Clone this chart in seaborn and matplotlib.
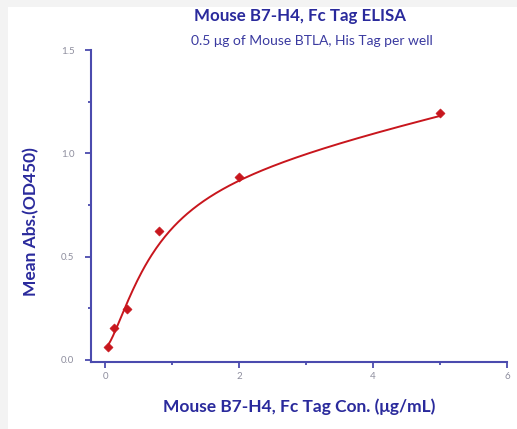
import matplotlib
matplotlib.use("Agg")
import matplotlib.pyplot as plt
import numpy as np
import seaborn as sns
from matplotlib.patches import Rectangle
from matplotlib.ticker import MultipleLocator

sns.set_theme(style="ticks")
plt.rcParams["font.family"] = ["Lato", "DejaVu Sans"]

# ---------------------------------------------------------------- data
conc = [0.0512, 0.128, 0.32, 0.8, 2.0, 5.0]          # ug/mL
od450 = [0.064, 0.155, 0.245, 0.624, 0.887, 1.194]   # mean Abs

# fitted curve (x, y along the red line)
curve_x = [0.05, 0.128, 0.32, 0.57, 0.8, 1.17, 1.57, 2.0, 2.31, 3.36, 5.0]
curve_y = [0.066, 0.15, 0.242, 0.42, 0.58, 0.71, 0.806, 0.86, 0.895, 1.016, 1.194]

title = "Mouse B7-H4, Fc Tag ELISA"
subtitle = "0.5 \u03bcg of Mouse BTLA, His Tag per well"
xlabel = "Mouse B7-H4, Fc Tag Con. (\u03bcg/mL)"
ylabel = "Mean Abs.(OD450)"

BLUE = "#2a2a9c"
AXC = "#4b4bae"
RED = "#c8161d"

# total binding w/ Hill slope: bg + Bmax*x^h/(Kd^h+x^h) + NS*x
x = np.array(curve_x); y = np.array(curve_y)
best = None
for h in np.linspace(0.9, 1.5, 25):
    for kd in np.logspace(-1.3, 1, 160):
        f = x**h / (kd**h + x**h)
        A = np.column_stack([f, x, np.ones_like(x)])
        coef, *_ = np.linalg.lstsq(A, y, rcond=None)
        err = ((A @ coef - y) ** 2).sum()
        if best is None or err < best[0]:
            best = (err, h, kd, coef)
_, h, kd, coef = best
xs = np.linspace(min(conc), max(conc), 300)
ys = coef[0] * xs**h / (kd**h + xs**h) + coef[1] * xs + coef[2]

# ---------------------------------------------------------------- plot
fig = plt.figure(figsize=(5.17, 4.29), dpi=100)
fig.patch.set_facecolor("#f3f3f3")
fig.add_artist(Rectangle((8 / 517, 0), 1, 1 - 7 / 429, transform=fig.transFigure,
                         facecolor="white", edgecolor="none", zorder=-10))
ax = fig.add_axes([91 / 517, 1 - 362 / 429, 416 / 517, 312 / 429])
ax.set_facecolor("none")

sns.lineplot(x=xs, y=ys, ax=ax, color=RED, lw=1.4)
sns.scatterplot(x=conc, y=od450, ax=ax, marker="D", s=22, color=RED,
                edgecolor=RED, zorder=3)

ax.set_xlim(-0.21, 6.0)
ax.set_ylim(-0.01, 1.5)
ax.xaxis.set_major_locator(MultipleLocator(2))
ax.xaxis.set_minor_locator(MultipleLocator(1))
ax.yaxis.set_major_locator(MultipleLocator(0.5))
ax.yaxis.set_minor_locator(MultipleLocator(0.25))
ax.yaxis.set_major_formatter(matplotlib.ticker.FormatStrFormatter("%.1f"))
for s in ["top", "right"]:
    ax.spines[s].set_visible(False)
for s in ["left", "bottom"]:
    ax.spines[s].set_color(AXC)
    ax.spines[s].set_linewidth(1.5)
ax.tick_params(which="both", direction="out", color=AXC, width=1.3,
               labelsize=7, labelcolor="#8e8e9e")
ax.tick_params(which="major", length=4)
ax.tick_params(which="minor", length=2.5)
ax.tick_params(axis="y", pad=8)

ax.set_xlabel(xlabel, fontsize=12.5, fontweight="bold", color=BLUE, labelpad=12)
ax.set_ylabel(ylabel, fontsize=12.5, fontweight="bold", color=BLUE)
ax.yaxis.set_label_coords(-0.125, 0.45)

fig.text(300 / 517, 1 - 16 / 429, title, ha="center", va="center",
         fontsize=12.2, fontweight="bold", color=BLUE)
fig.text(312 / 517, 1 - 41 / 429, subtitle, ha="center", va="center",
         fontsize=10, color="#3a3aa0")

fig.savefig("out.png", dpi=100)
